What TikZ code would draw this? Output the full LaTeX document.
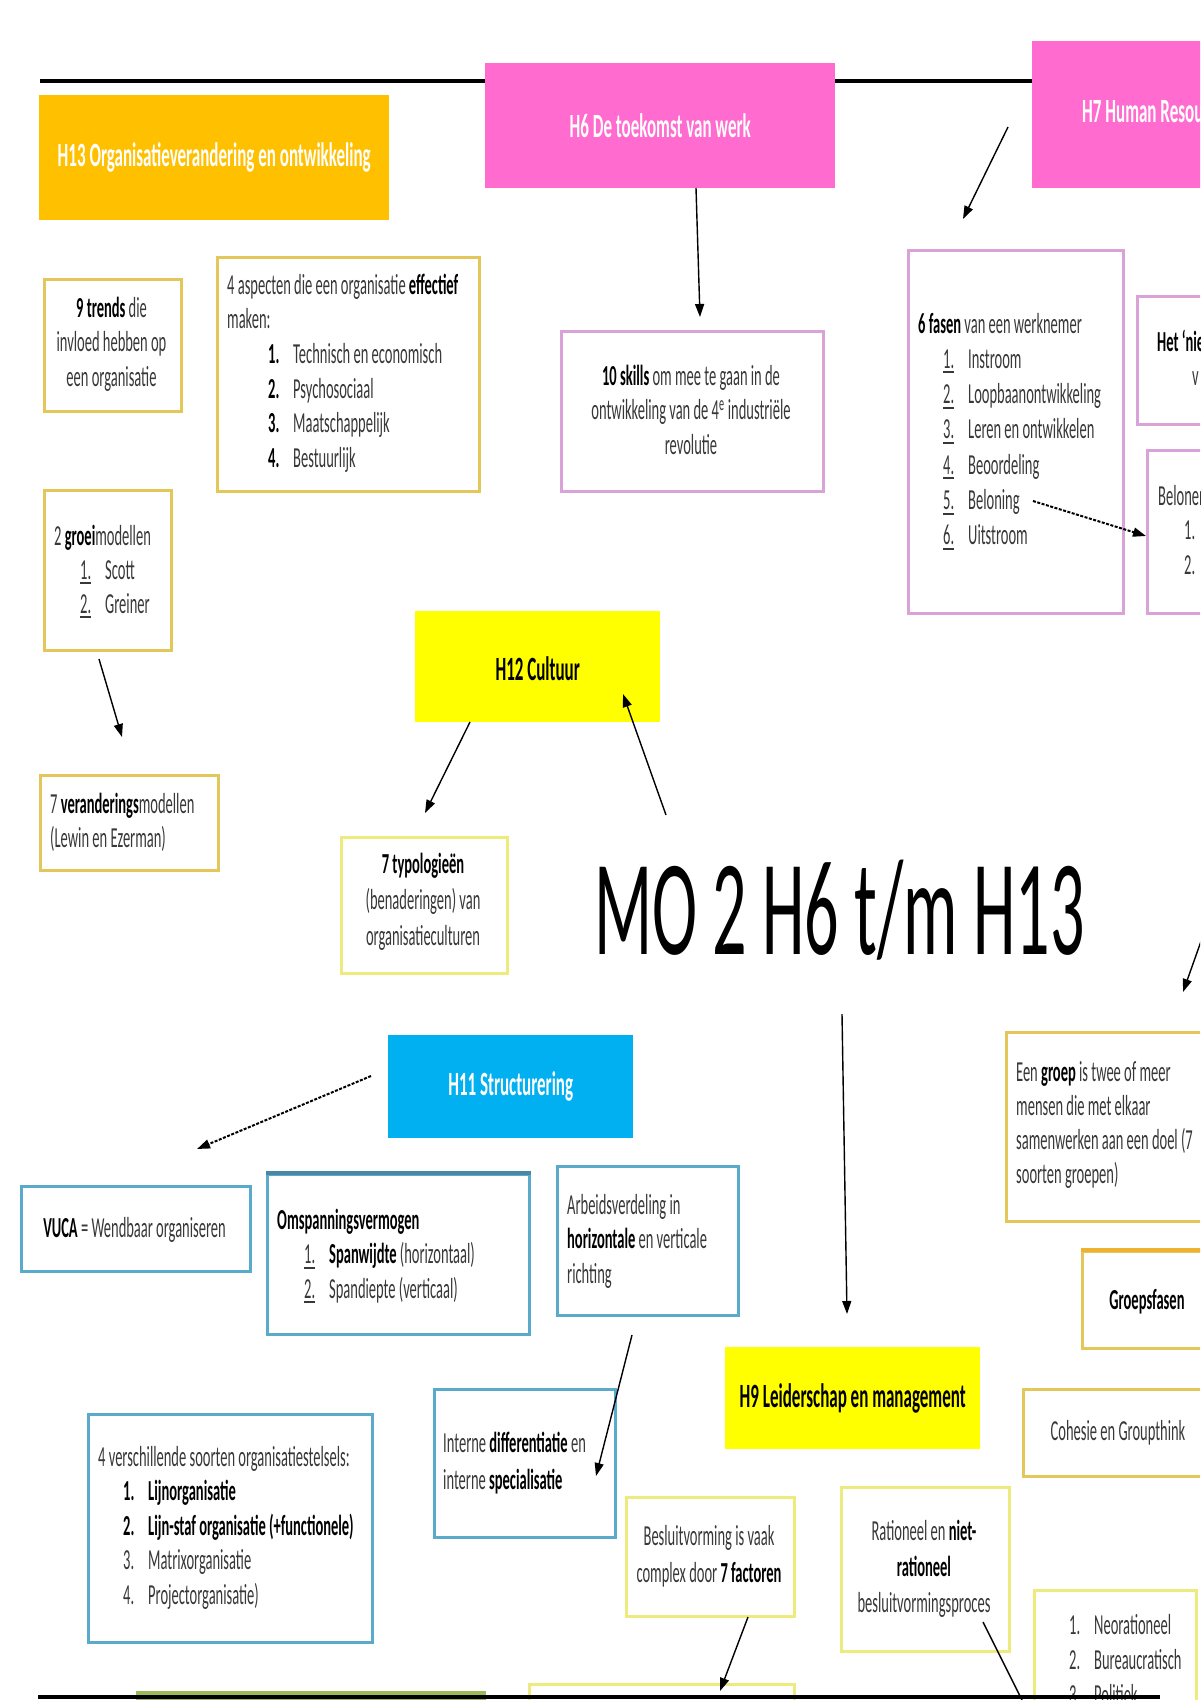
\documentclass[tikz,border=0pt]{standalone}
\usepackage{fontspec}
\setmainfont{Carlito}[FakeStretch=0.5]
\usetikzlibrary{arrows.meta}
\definecolor{orangeH}{HTML}{FFC000}
\definecolor{pinkH}{HTML}{FF6BCF}
\definecolor{yellowH}{HTML}{FFFF00}
\definecolor{blueH}{HTML}{00B0F0}
\definecolor{goldB}{HTML}{E3C75A}
\definecolor{paleY}{HTML}{EEEB7E}
\definecolor{pinkB}{HTML}{D9A3D9}
\definecolor{blueB}{HTML}{5AAACB}
\definecolor{greenB}{HTML}{9BBB59}
\definecolor{txtgray}{HTML}{383838}
\definecolor{orangeB}{HTML}{F0B030}

\newcommand\Lft[2][34.7pt]{\vtop{\baselineskip=#1\lineskiplimit=-100pt\lineskip=0pt\halign{##\hfil\cr#2\crcr}}}
\newcommand\Ctr[2][34.7pt]{\vtop{\baselineskip=#1\lineskiplimit=-100pt\lineskip=0pt\halign{\hfil##\hfil\cr#2\crcr}}}
\newcommand\B[1]{{\bfseries\color{black}#1}}
\newcommand\ulnum[1]{\makebox[25pt][l]{\setbox0\hbox{#1}\rlap{\rule[-5pt]{\wd0}{2pt}}\box0}}
\newcommand\plnum[1]{\makebox[25pt][l]{#1}}

\tikzset{
  hdr/.style={rectangle, inner sep=0pt, anchor=north west, draw=none},
  bx/.style={rectangle, inner sep=0pt, anchor=north west, line width=2.5pt, fill=white},
  txt/.style={inner sep=0pt, text=txtgray, font=\fontsize{29}{34.7}\selectfont},
  htxt/.style={inner sep=0pt, font=\fontsize{34}{40}\selectfont\bfseries},
  arr/.style={line width=1.4pt, -{Triangle[length=13pt,width=9pt]}},
  darr/.style={arr, line width=2pt, dash pattern=on 3pt off 1.5pt},
}

\begin{document}
\begin{tikzpicture}[x=1pt,y=-1pt]
\useasboundingbox (0,0) rectangle (1200,1700);
\clip (0,0) rectangle (1200,1700);
\fill[white] (0,0) rectangle (1200,1700);

% top line
\coordinate (tl1) at (40,81);
\coordinate (tl2) at (1200,81);
\draw[line width=3.5pt] (tl1) -- (tl2);

% header boxes
\node[hdr, fill=orangeH, minimum width=350pt, minimum height=125pt] (h13) at (39,95) {};
\node[hdr, fill=pinkH, minimum width=350pt, minimum height=125pt] (h6) at (485,63) {};
\node[hdr, fill=pinkH, minimum width=300pt, minimum height=147pt] (h7) at (1032,41) {};
\node[hdr, fill=yellowH, minimum width=245pt, minimum height=111pt] (h12) at (415,611) {};
\node[hdr, fill=blueH, minimum width=245pt, minimum height=103pt] (h11) at (388,1035) {};
\node[hdr, fill=yellowH, minimum width=255pt, minimum height=102pt] (h9) at (725,1347) {};

\node[htxt, text=white] (th13) at (h13.center) {H13 Organisatieverandering en ontwikkeling};
\node[htxt, text=white] (th6) at (h6.center) {H6 De toekomst van werk};
\node[htxt, text=white, anchor=west] (th7) at (1082,114) {H7 Human Resource Management};
\node[htxt, text=black] (th12) at ([yshift=-2pt]h12.center) {H12 Cultuur};
\node[htxt, text=white] (th11) at (h11.center) {H11 Structurering};
\node[htxt, text=black] (th9) at (h9.center) {H9 Leiderschap en management};

% content boxes
\node[bx, draw=goldB, minimum width=137pt, minimum height=132pt] (trends) at (43,278) {};
\node[bx, draw=goldB, minimum width=262pt, minimum height=234pt] (aspect) at (216,256) {};
\node[bx, draw=pinkB, minimum width=262pt, minimum height=160pt] (skills) at (560,330) {};
\node[bx, draw=pinkB, minimum width=215pt, minimum height=363pt] (fasen) at (907,249) {};
\node[bx, draw=pinkB, minimum width=120pt, minimum height=128pt] (nieuw) at (1136,295) {};
\node[bx, draw=pinkB, minimum width=120pt, minimum height=163pt] (belonen) at (1146,449) {};
\node[bx, draw=goldB, minimum width=127pt, minimum height=160pt] (groei) at (43,489) {};
\node[bx, draw=goldB, minimum width=178pt, minimum height=95pt] (verander) at (39,774) {};
\node[bx, draw=paleY, minimum width=166pt, minimum height=136pt] (typo) at (340,836) {};
\node[bx, draw=blueB, minimum width=229pt, minimum height=85pt] (vuca) at (20,1185) {};
\node[bx, draw=blueB, minimum width=262pt, minimum height=160pt] (omspan) at (266,1173) {};
\node[bx, draw=blueB, minimum width=181pt, minimum height=149pt] (arbeid) at (556,1165) {};
\node[bx, draw=blueB, minimum width=181pt, minimum height=148pt] (intern) at (433,1388) {};
\node[bx, draw=blueB, minimum width=284pt, minimum height=228pt] (stelsel) at (87,1413) {};
\node[bx, draw=paleY, minimum width=168pt, minimum height=119pt] (besluit) at (625,1496) {};
\node[bx, draw=paleY, minimum width=168pt, minimum height=164pt] (ration) at (840,1486) {};
\node[bx, draw=goldB, minimum width=230pt, minimum height=189pt] (groep) at (1005,1031) {};
\node[bx, draw=goldB, minimum width=150pt, minimum height=97pt] (gfasen) at (1081,1250) {};
\node[bx, draw=goldB, minimum width=190pt, minimum height=87pt] (cohesie) at (1022,1388) {};
\node[bx, draw=paleY, minimum width=162pt, minimum height=130pt] (neo) at (1033,1589) {};
\node[hdr, fill=greenB, minimum width=350pt, minimum height=20pt] (green) at (136,1691) {};
\node[bx, draw=paleY, minimum width=265pt, minimum height=30pt] (ybot) at (528,1683) {};

\draw[line width=4pt, blueB!80!black] (omspan.north west) -- (omspan.north east);
\draw[line width=4pt, orangeB] (gfasen.north west) -- (gfasen.north east);

% texts
\node[txt, anchor=base] (ttrends) at (111.5,317) {\Ctr{\B{9 trends} die\cr invloed hebben op\cr een organisatie}};
\node[txt, anchor=base west] (taspect) at (227,294) {\Lft{4 aspecten die een organisatie \B{effectief}\cr maken:\cr
 \hspace{41pt}\plnum{\B{1.}}Technisch en economisch\cr
 \hspace{41pt}\plnum{\B{2.}}Psychosociaal\cr
 \hspace{41pt}\plnum{\B{3.}}Maatschappelijk\cr
 \hspace{41pt}\plnum{\B{4.}}Bestuurlijk}};
\node[txt, anchor=base] (tskills) at (691,385) {\Ctr{\B{10 skills} om mee te gaan in de\cr ontwikkeling van de 4\textsuperscript{e} industriële\cr revolutie}};
\node[txt, anchor=base west] (tfasen) at (918,333) {\Lft[35.3pt]{\B{6 fasen} van een werknemer\cr
 \hspace{25pt}\ulnum{1.}Instroom\cr
 \hspace{25pt}\ulnum{2.}Loopbaanontwikkeling\cr
 \hspace{25pt}\ulnum{3.}Leren en ontwikkelen\cr
 \hspace{25pt}\ulnum{4.}Beoordeling\cr
 \hspace{25pt}\ulnum{5.}Beloning\cr
 \hspace{25pt}\ulnum{6.}Uitstroom}};
\node[txt, anchor=base west] (tnieuw1) at (1157,351) {\B{Het ‘nieuwe}};
\node[txt, anchor=base west] (tnieuw2) at (1192,385) {v};
\node[txt, anchor=base west] (tbelonen) at (1158,505) {\Lft{Belonen\cr \hspace{26pt}1.\cr \hspace{26pt}2.}};
\node[txt, anchor=base west] (tgroei) at (54,545) {\Lft[34pt]{2 \B{groei}modellen\cr
 \hspace{26pt}\ulnum{1.}Scott\cr
 \hspace{26pt}\ulnum{2.}Greiner}};
\node[txt, anchor=base west] (tverander) at (50,813) {\Lft{7 \B{veranderings}modellen\cr (Lewin en Ezerman)}};
\node[txt, anchor=base] (ttypo) at (423,873) {\Ctr[36pt]{\B{7 typologieën}\cr (benaderingen) van\cr organisatieculturen}};
\node[txt, anchor=base] (tvuca) at (134.5,1237) {\B{VUCA} = Wendbaar organiseren};
\node[txt, anchor=base west] (tomspan) at (277,1229) {\Lft{\B{Omspanningsvermogen}\cr
 \hspace{27pt}\ulnum{1.}\B{Spanwijdte} (horizontaal)\cr
 \hspace{27pt}\ulnum{2.}Spandiepte (verticaal)}};
\node[txt, anchor=base west] (tarbeid) at (567,1214) {\Lft{Arbeidsverdeling in\cr \B{horizontale} en verticale\cr richting}};
\node[txt, anchor=base west] (tintern) at (443,1452) {\Lft[37pt]{Interne \B{differentiatie} en\cr interne \B{specialisatie}}};
\node[txt, anchor=base west] (tstelsel) at (98,1466) {\Lft[34.5pt]{4 verschillende soorten organisatiestelsels:\cr
 \hspace{25pt}\plnum{\B{1.}}\B{Lijnorganisatie}\cr
 \hspace{25pt}\plnum{\B{2.}}\B{Lijn-staf organisatie (+functionele)}\cr
 \hspace{25pt}\plnum{3.}Matrixorganisatie\cr
 \hspace{25pt}\plnum{4.}Projectorganisatie)}};
\node[txt, anchor=base] (tbesluit) at (709,1545) {\Ctr[37pt]{Besluitvorming is vaak\cr complex door \B{7 factoren}}};
\node[txt, anchor=base] (tration) at (924,1540) {\Ctr[36pt]{Rationeel en \B{niet-}\cr \B{rationeel}\cr besluitvormingsproces}};
\node[txt, anchor=base west] (tgroep) at (1016,1081) {\Lft[34pt]{Een \B{groep} is twee of meer\cr mensen die met elkaar\cr samenwerken aan een doel (7\cr soorten groepen)}};
\node[txt, anchor=base] (tgfasen) at (1147,1309) {\B{Groepsfasen}};
\node[txt, anchor=base] (tcohesie) at (1118,1440) {Cohesie en Groupthink};
\node[txt, anchor=base west] (tneo) at (1069,1634) {\Lft[35pt]{\plnum{1.}Neorationeel\cr \plnum{2.}Bureaucratisch\cr \plnum{3.}Politiek}};

% title
\node[inner sep=0pt, anchor=base west, font=\fontsize{136}{140}\selectfont] (title) at (594,954) {MO 2 H6 t/m H13};

% connectors
\coordinate (a1s) at (1008,127);  \coordinate (a1e) at (963,219);
\coordinate (a2s) at (696,188);   \coordinate (a2e) at (700,317);
\coordinate (a3s) at (99,659);    \coordinate (a3e) at (122,737);
\coordinate (a4s) at (470,722);   \coordinate (a4e) at (425,813);
\coordinate (a5s) at (666,815);   \coordinate (a5e) at (623,694);
\coordinate (a6s) at (842,1014);  \coordinate (a6e) at (847,1314);
\coordinate (a7s) at (1205,930);  \coordinate (a7e) at (1183,992);
\coordinate (a8s) at (371,1076);  \coordinate (a8e) at (197,1149);
\coordinate (a9s) at (632,1335);  \coordinate (a9e) at (596,1476);
\coordinate (a10s) at (748,1617); \coordinate (a10e) at (720,1691);
\coordinate (a11s) at (983,1622); \coordinate (a11e) at (1022,1700);
\coordinate (a12s) at (1033,501); \coordinate (a12e) at (1146,536);

\draw[arr] (a1s) -- (a1e);
\draw[arr] (a2s) -- (a2e);
\draw[arr] (a3s) -- (a3e);
\draw[arr] (a4s) -- (a4e);
\draw[arr] (a5s) -- (a5e);
\draw[arr] (a6s) -- (a6e);
\draw[arr] (a7s) -- (a7e);
\draw[darr] (a8s) -- (a8e);
\draw[arr] (a9s) -- (a9e);
\draw[arr] (a10s) -- (a10e);
\draw[line width=1.4pt] (a11s) -- (a11e);
\draw[darr] (a12s) -- (a12e);

% bottom line
\coordinate (bl1) at (38,1697);
\coordinate (bl2) at (1160,1697);
\draw[line width=4pt] (bl1) -- (bl2);
\end{tikzpicture}
\end{document}
